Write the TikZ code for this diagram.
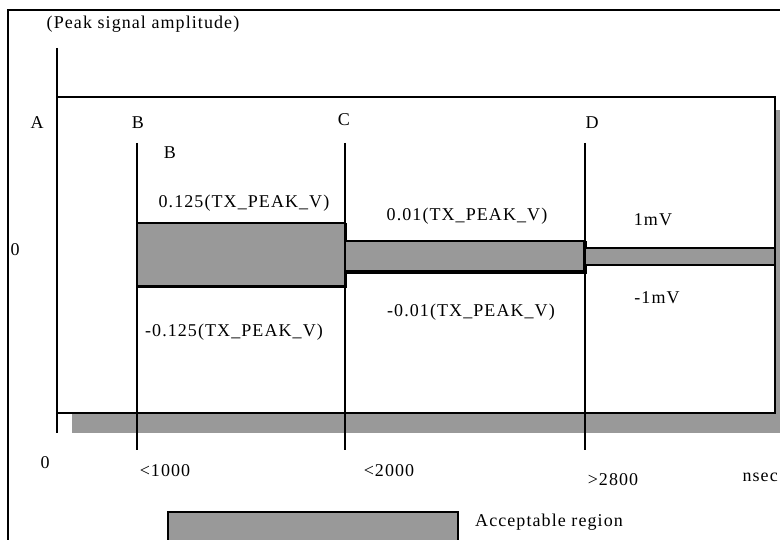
\documentclass[tikz,border=0pt]{standalone}
\usepackage{fontspec}
\newfontfamily\scanfont[LetterSpace=6]{Liberation Serif}
\usepackage{tikz}

\begin{document}
\begin{tikzpicture}[x=1pt,y=-1pt,
		lbl/.style={font=\scanfont\fontsize{18}{20}\selectfont,inner sep=0pt},
		band/.style={fill=black!40,draw=black,line width=1.5pt},
		rule/.style={line width=1.6pt}]
		\useasboundingbox (0,0) rectangle (780,540);
		% frame of the scanned page
		\draw[line width=2.4pt] (8,560) -- (8,10) -- (800,10);
		% shadow and plot area
		\fill[black!40] (72,110) rectangle (800,433);
		\draw[rule,fill=white] (57,97) rectangle (775,413);
		\coordinate (top) at (57,48);
		\coordinate (foot) at (57,433);
		\draw[rule] (top) -- (foot);
		% limit lines
		\coordinate (B1) at (137,143);
		\coordinate (B2) at (137,450);
		\coordinate (C1) at (345,143);
		\coordinate (C2) at (345,450);
		\coordinate (D1) at (585,143);
		\coordinate (D2) at (585,450);
		\draw[rule] (B1) -- (B2);
		\draw[rule] (C1) -- (C2);
		\draw[rule] (D1) -- (D2);
		% acceptable bands
		\draw[band] (137,223) rectangle (345,287);
		\draw[line width=3pt] (137,287) -- (345,287) -- (345,223);
		\draw[band] (345,241) rectangle (585,272);
		\draw[line width=3.5pt] (345,272) -- (585,272) -- (585,241);
		\draw[band] (585,248) rectangle (775,265);
		% texts
		\node[lbl] (amp) at (143,24) {(Peak signal amplitude)};
		\node[lbl] (A) at (37,123) {A};
		\node[lbl] (B) at (138,123) {B};
		\node[lbl] (Bb) at (170,153) {B};
		\node[lbl] (C) at (344,120) {C};
		\node[lbl] (D) at (592,123) {D};
		\node[lbl] (zero) at (15,250) {0};
		\node[lbl] (hiB) at (244,203) {0.125(TX\_PEAK\_V)};
		\node[lbl] (loB) at (234,332) {-0.125(TX\_PEAK\_V)};
		\node[lbl] (hiC) at (467,216) {0.01(TX\_PEAK\_V)};
		\node[lbl] (loC) at (471,312) {-0.01(TX\_PEAK\_V)};
		\node[lbl] (hiD) at (653,220) {1mV};
		\node[lbl] (loD) at (657,298) {-1mV};
		\node[lbl] (t0) at (45,463) {0};
		\node[lbl] (t1) at (165,471) {<1000};
		\node[lbl] (t2) at (389,471) {<2000};
		\node[lbl] (t3) at (613,480) {>2800};
		\node[lbl,anchor=east] (unit) at (778,477) {nsec};
		% legend
		\draw[band] (168,512) rectangle (458,560);
		\node[lbl,anchor=west] (key) at (475,522) {Acceptable region};
	\end{tikzpicture}
\end{document}
